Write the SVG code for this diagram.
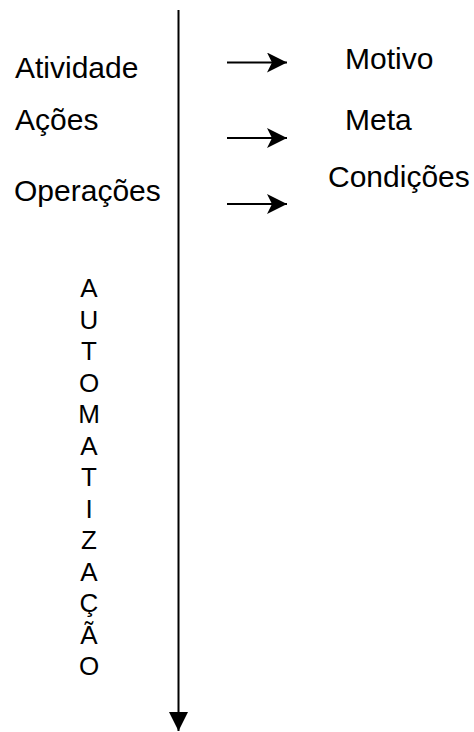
<svg xmlns="http://www.w3.org/2000/svg" width="474" height="732" viewBox="0 0 474 732">
  <style>
    .lbl { font-family: "Liberation Sans", Arial, sans-serif; font-size: 30px; fill: #000; }
    .col { font-family: "Liberation Sans", Arial, sans-serif; font-size: 26px; fill: #000; text-anchor: middle; }
    .wire { stroke: #000; stroke-width: 2; fill: none; }
  </style>
  <defs>
    <marker id="head" viewBox="0 0 20 20" refX="20" refY="10" markerWidth="20" markerHeight="20" markerUnits="userSpaceOnUse" orient="auto">
      <path d="M0,0 L20,10 L0,20 L5,10 Z" fill="#000"/>
    </marker>
    <marker id="tip" viewBox="0 0 19 19" refX="19" refY="9.5" markerWidth="19" markerHeight="19" markerUnits="userSpaceOnUse" orient="auto">
      <path d="M0,0 L19,9.5 L0,19 Z" fill="#000"/>
    </marker>
  </defs>
  <rect width="474" height="732" fill="#fff"/>

  <g id="connectors">
    <line class="wire" x1="178.5" y1="10" x2="178.5" y2="731" marker-end="url(#tip)"/>
    <line class="wire" x1="227" y1="62.5" x2="287" y2="62.5" marker-end="url(#head)"/>
    <line class="wire" x1="227" y1="138" x2="287" y2="138" marker-end="url(#head)"/>
    <line class="wire" x1="227" y1="204" x2="287" y2="204" marker-end="url(#head)"/>
  </g>

  <g id="atividade"><text class="lbl" x="15" y="78">Atividade</text></g>
  <g id="acoes"><text class="lbl" x="15" y="130">Ações</text></g>
  <g id="operacoes"><text class="lbl" x="14" y="201">Operações</text></g>

  <g id="motivo"><text class="lbl" x="345" y="69">Motivo</text></g>
  <g id="meta"><text class="lbl" x="345" y="130">Meta</text></g>
  <g id="condicoes"><text class="lbl" x="328" y="187">Condições</text></g>

  <g id="automatizacao">
    <text class="col" x="89" y="297">A</text>
    <text class="col" x="89" y="328.5">U</text>
    <text class="col" x="89" y="360">T</text>
    <text class="col" x="89" y="391.5">O</text>
    <text class="col" x="89" y="423">M</text>
    <text class="col" x="89" y="454.5">A</text>
    <text class="col" x="89" y="486">T</text>
    <text class="col" x="89" y="517.5">I</text>
    <text class="col" x="89" y="549">Z</text>
    <text class="col" x="89" y="580.5">A</text>
    <text class="col" x="89" y="612">Ç</text>
    <text class="col" x="89" y="643.5">Ã</text>
    <text class="col" x="89" y="675">O</text>
  </g>
</svg>
